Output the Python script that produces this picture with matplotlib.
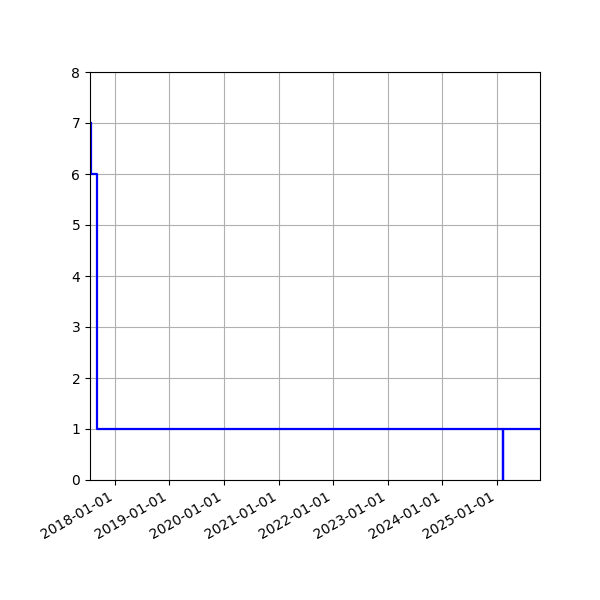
import matplotlib
matplotlib.use("Agg")
import matplotlib.pyplot as plt
import matplotlib.dates as mdates
import numpy as np

dates = np.array(["2017-07-22", "2017-07-22", "2017-09-03", "2017-09-03",
                  "2025-02-10", "2025-02-10", "2025-02-10", "2025-10-16"],
                 dtype="datetime64[D]")
values = [7, 6, 6, 1, 1, 0, 1, 1]
x_start = np.datetime64("2017-07-18")

fig, ax = plt.subplots(figsize=(6, 6), dpi=100)
ax.plot(dates, values, color="blue", linewidth=1.6)
ax.set_xlim(x_start, dates[-1])
ax.set_ylim(0, 8)
ax.xaxis.set_major_locator(mdates.YearLocator())
ax.xaxis.set_major_formatter(mdates.DateFormatter("%Y-%m-%d"))
ax.grid(True)
fig.autofmt_xdate()
fig.subplots_adjust(left=0.15, right=0.9, top=0.88, bottom=0.2)
fig.savefig("out.png", dpi=100)
